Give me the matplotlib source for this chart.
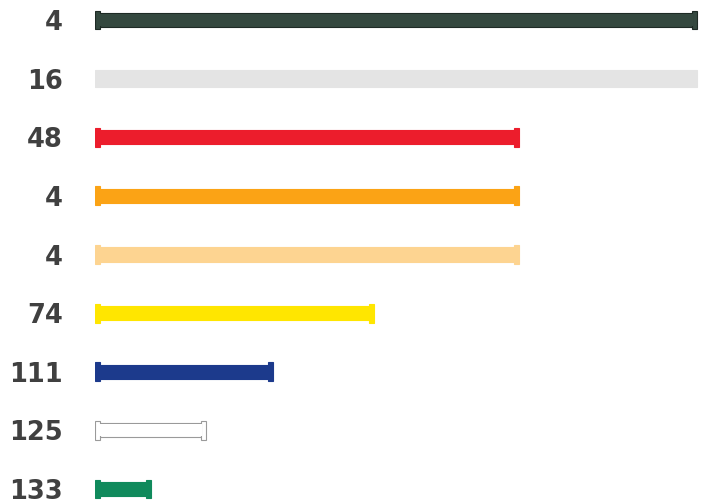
import matplotlib.pyplot as plt
import numpy as np

# tie codes and lengths (mm), top to bottom
codes = ['4', '16', '48', '4', '4', '74', '111', '125', '133']
lengths = [540, 540, 380, 380, 380, 250, 160, 100, 50]
colors = ['#34483f', '#e4e4e4', '#ec1d2c', '#fba315', '#fdd491',
          '#ffe600', '#1c3a8c', '#ffffff', '#108a5c']
edges = ['#1e2a25', '#e4e4e4', '#ec1d2c', '#fba315', '#fdd491',
         '#ffe600', '#1c3a8c', '#9a9a9a', '#108a5c']

fig = plt.figure(figsize=(7.23, 5.04), dpi=100)
ax = fig.add_axes([95 / 723, 0, 620 / 723, 1])

y = np.arange(len(codes))
cap = 4.5
body = 0.24
for i in range(len(codes)):
    head = 0.32
    if codes[i] == '16' and i == 1:
        # translucent grey tie, no visible heads
        body_h, head = 0.29, 0.29
    else:
        body_h = body
    ax.barh(y[i], lengths[i] - 2 * cap, left=cap, height=body_h,
            color=colors[i], edgecolor=edges[i], linewidth=0.8, zorder=2)
    # slightly wider heads at both ends
    ax.barh(y[i], cap, left=0, height=head, color=colors[i],
            edgecolor=edges[i], linewidth=0.8, zorder=3)
    ax.barh(y[i], cap, left=lengths[i] - cap, height=head, color=colors[i],
            edgecolor=edges[i], linewidth=0.8, zorder=3)
    # hide the seam between head and body
    ax.barh(y[i], lengths[i] - 2 * cap + 1.2, left=cap - 0.6,
            height=body_h - 0.035, color=colors[i], linewidth=0, zorder=4)

ax.set_xlim(0, 620 * 540 / 602)
ax.set_ylim(8 + 15 / 58.6, -20 / 58.6)
ax.set_yticks(y)
ax.set_yticklabels(codes, fontsize=18.5, fontweight='bold', color='#404040')
ax.tick_params(axis='y', length=0, pad=23)
ax.set_xticks([])
for s in ax.spines.values():
    s.set_visible(False)

plt.savefig('out.png', dpi=100)
